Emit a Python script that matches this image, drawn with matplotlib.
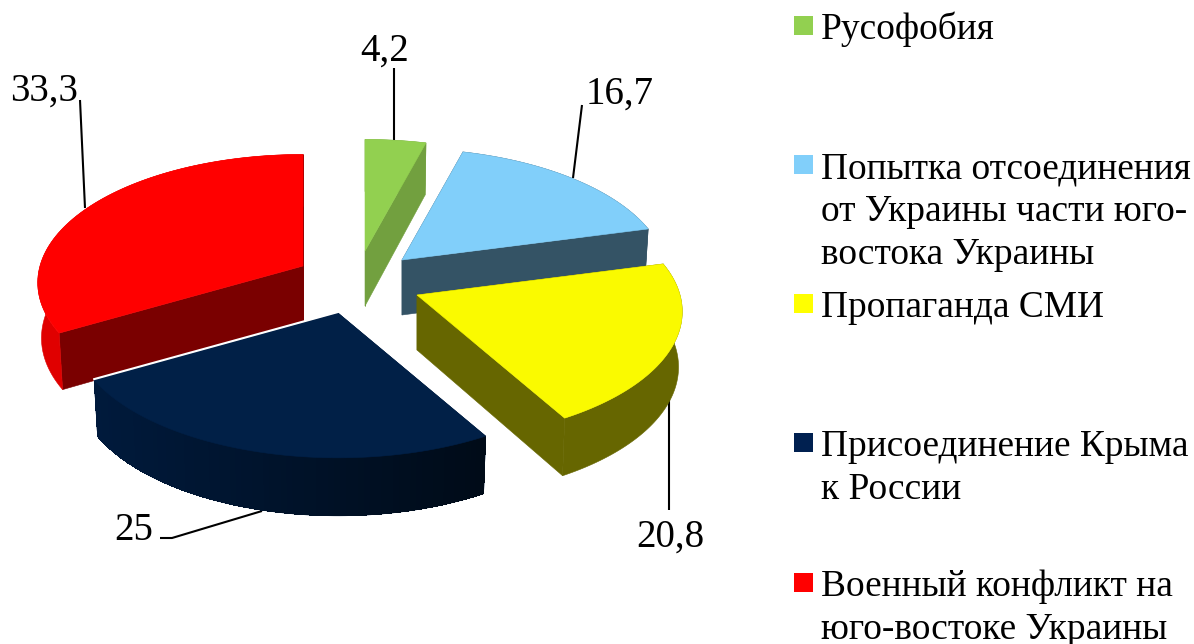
import numpy as np
import matplotlib
matplotlib.use("Agg")
import matplotlib.pyplot as plt
from matplotlib.patches import Polygon, Rectangle
from matplotlib.colors import to_rgb

categories = ["Русофобия",
              "Попытка отсоединения\nот Украины части юго-\nвостока Украины",
              "Пропаганда СМИ",
              "Присоединение Крыма\nк России",
              "Военный конфликт на\nюго-востоке Украины"]
values = [4.2, 16.7, 20.8, 25, 33.3]
value_labels = ["4,2", "16,7", "20,8", "25", "33,3"]

legend_colors = ["#92d050", "#81cffa", "#ffff00", "#002050", "#ff0000"]
top_colors = ["#92d050", "#81cffa", "#fafa00", "#012047", "#ff0000"]
side_colors = ["#72a03f", "#345365", "#666600", "#001a3c", "#7a0000"]
rim_left = ["#72a03f", "#345365", "#666600", "#001a3c", "#e00000"]
rim_right = ["#72a03f", "#345365", "#666600", "#000b18", "#e00000"]

apexes = [(365, 251), (402, 260), (417, 295), (338, 313), (303, 266)]
RX, RY, K, DEPTH = 263, 126, 0.13, 55
TAPER = 0.986
draw_order = [0, 1, 4, 3, 2]

label_pos = [(385, 61), (620, 104), (670, 547), (134, 540), (44, 101)]
leaders = [[(394, 68), (394, 140)],
           [(582, 105), (573, 178)],
           [(669, 400), (669, 510)],
           [(160, 538), (172, 538), (262, 511)],
           [(80, 100), (85, 208)]]
legend_y = [16, 155, 294, 433, 573]
LH = 43

fig = plt.figure(figsize=(11.94, 6.44), dpi=100)
ax = fig.add_axes([0, 0, 1, 1])
ax.set_xlim(0, 1194)
ax.set_ylim(644, 0)
ax.axis("off")
FONT = "Liberation Serif"


def rim(apex, a, b, n=80):
    t = np.radians(np.linspace(a, b, n))
    s = 1 / (1 + K * np.cos(t))
    top = np.column_stack([apex[0] + RX * np.sin(t) * s,
                           apex[1] - RY * np.cos(t) * s])
    bottom = np.column_stack([apex[0] + TAPER * RX * np.sin(t) * s,
                              top[:, 1] + DEPTH - 3 * np.cos(t)])
    return top, bottom


angles = np.concatenate([[0], np.cumsum(values)]) / np.sum(values) * 360
for rank, i in enumerate(draw_order):
    z = 2 + rank * 5
    apex = np.array(apexes[i], float)
    low = apex + [0, DEPTH]
    arc, base = rim(apex, angles[i], angles[i + 1])
    for k in (0, -1):
        ax.add_patch(Polygon([apex, arc[k], base[k], low], closed=True,
                             fc=side_colors[i], ec=side_colors[i], lw=0.4, zorder=z))
    ax.add_patch(Polygon(np.vstack([arc, base[::-1]]), closed=True,
                         fc=rim_left[i], ec=rim_left[i], lw=0.4, zorder=z + 1))
    if rim_left[i] != rim_right[i]:
        c0, c1 = np.array(to_rgb(rim_left[i])), np.array(to_rgb(rim_right[i]))
        xr = arc[:, 0].min(), arc[:, 0].max()
        for j in range(len(arc) - 1):
            f = (arc[j, 0] - xr[0]) / max(xr[1] - xr[0], 1)
            ax.add_patch(Polygon([arc[j], arc[j + 1], base[j + 1], base[j]], closed=True,
                                 fc=tuple(c0 + (c1 - c0) * f), ec="none",
                                 antialiased=False, zorder=z + 1))
    ax.add_patch(Polygon(np.vstack([apex, arc]), closed=True, fc=top_colors[i],
                         ec=top_colors[i], lw=0.4, zorder=z + 2))
    if i == 3:
        ax.plot([apex[0], arc[-1, 0]], [apex[1] - 1, arc[-1, 1] - 1],
                color="white", lw=1.5, zorder=z + 2)

for pts in leaders:
    xs, ys = zip(*pts)
    ax.plot(xs, ys, color="black", lw=1.5, zorder=1, solid_capstyle="butt")

for (x, y), t in zip(label_pos, value_labels):
    ax.text(x, y, t, family=FONT, fontsize=28, ha="center", va="baseline",
            color="black", zorder=60)

for y, cat, col in zip(legend_y, categories, legend_colors):
    ax.add_patch(Rectangle((794, y), 19, 19, fc=col, ec="none", zorder=60))
    for j, line in enumerate(cat.split("\n")):
        ax.text(821, y + 23 + j * LH, line, family=FONT, fontsize=26.9,
                ha="left", va="baseline", color="black", zorder=60)

fig.savefig("out.png", dpi=100, facecolor="white")
